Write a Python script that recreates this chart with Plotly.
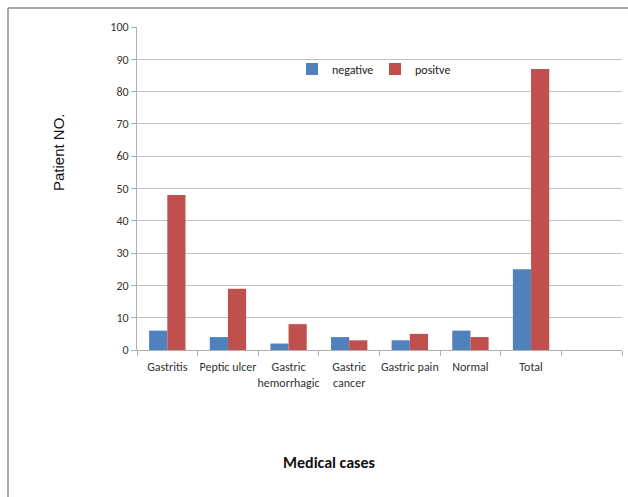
import plotly.graph_objects as go

# Chart data
categories = ["Gastritis", "Peptic ulcer", "Gastric<br>hemorrhagic", "Gastric<br>cancer",
              "Gastric pain", "Normal", "Total"]
slot_labels = categories + [" "]  # trailing empty slot on the category axis
negative = [6, 4, 2, 4, 3, 6, 25]
positive = [48, 19, 8, 3, 5, 4, 87]
y_ticks = list(range(0, 101, 10))

W, H = 628, 497
L, R, T, B = 137, 6, 27, 147
pw, ph = W - L - R, H - T - B


def px_x(x):
    return (x - L) / pw


def px_y(y):
    return (H - B - y) / ph


font_main = "Carlito, Liberation Sans Narrow, Lato, sans-serif"

fig = go.Figure()
fig.add_trace(go.Bar(name="negative", x=categories, y=negative, marker_color="#4F81BD",
                     marker_line_width=0))
fig.add_trace(go.Bar(name="positve", x=categories, y=positive, marker_color="#C0504D",
                     marker_line_width=0))

fig.update_layout(
    width=W, height=H,
    margin=dict(l=L, r=R, t=T, b=B, pad=0),
    paper_bgcolor="white", plot_bgcolor="white",
    barmode="group", bargap=0.4, bargroupgap=0,
    font=dict(family=font_main, size=12, color="#333"),
    showlegend=True,
    legend=dict(orientation="h", x=px_x(292), y=px_y(69), xanchor="left", yanchor="middle",
                bgcolor="rgba(0,0,0,0)", font=dict(size=12, color="#222"),
                itemwidth=30, entrywidth=38, tracegroupgap=0, itemsizing="constant"),
    xaxis=dict(type="category", categoryorder="array", categoryarray=slot_labels,
               range=[-0.5, 7.5], tickson="boundaries", ticks="outside", ticklen=5,
               tickangle=0, tickcolor="#b0b0b0", showline=True, linecolor="#b0b0b0",
               linewidth=1, showgrid=False, ticklabelstandoff=6,
               tickfont=dict(size=12, color="#333")),
    yaxis=dict(range=[0, 100], tickvals=y_ticks, ticks="outside", ticklen=5,
               tickcolor="#b0b0b0", showline=True, linecolor="#b0b0b0", linewidth=1,
               showgrid=True, gridcolor="#c0c0c0", gridwidth=1, zeroline=False,
               tickfont=dict(size=12, color="#333")),
)

# Axis titles
fig.add_annotation(text="<b>Medical cases</b>", xref="paper", yref="paper",
                   x=px_x(329), y=px_y(462), xanchor="center", yanchor="middle",
                   showarrow=False,
                   font=dict(family=font_main, size=16, color="#111"))
fig.add_annotation(text="Patient NO.", xref="paper", yref="paper",
                   x=px_x(58), y=px_y(152), xanchor="center", yanchor="middle",
                   showarrow=False, textangle=-90,
                   font=dict(family="Liberation Sans, Arial, sans-serif", size=15, color="#111"))

# Outer frame (top and left edges)
frame = dict(color="#8c8c8c", width=1.5)
fig.add_shape(type="line", xref="paper", yref="paper",
              x0=px_x(8), x1=px_x(628), y0=px_y(8), y1=px_y(8), line=frame)
fig.add_shape(type="line", xref="paper", yref="paper",
              x0=px_x(8), x1=px_x(8), y0=px_y(8), y1=px_y(497), line=frame)

fig.write_html("out.html")
